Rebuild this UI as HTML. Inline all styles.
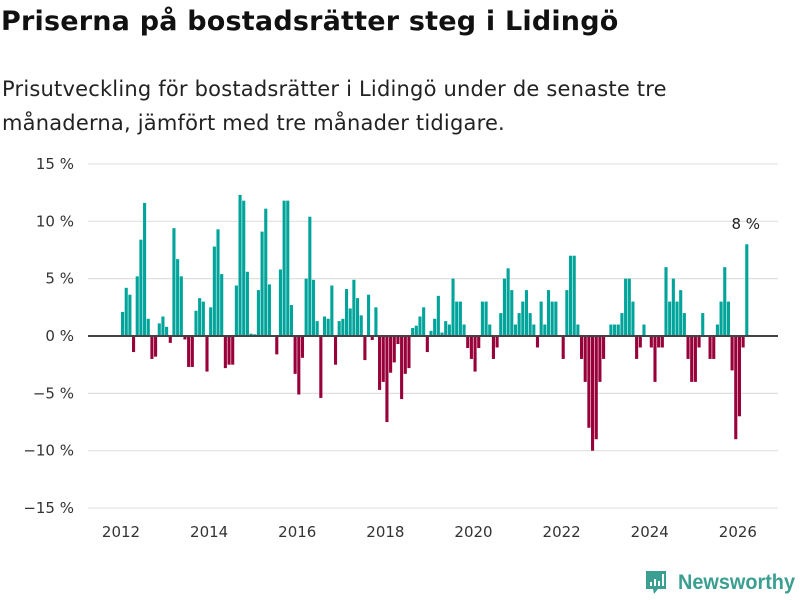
<!DOCTYPE html>
<html><head><meta charset="utf-8">
<style>
body{margin:0;background:#fff;font-family:"DejaVu Sans",sans-serif;}
#wrap{position:relative;width:800px;height:600px;overflow:hidden;}
h1{position:absolute;left:1px;top:6px;margin:0;font-family:"DejaVu Sans",sans-serif;font-size:27px;font-weight:bold;color:#111;letter-spacing:0.2px;white-space:nowrap;}
p{position:absolute;left:2px;top:72px;margin:0;font-family:"DejaVu Sans",sans-serif;font-size:21px;line-height:34px;color:#222;white-space:nowrap;letter-spacing:0.2px;}
</style></head><body>
<div id="wrap">
<h1>Priserna på bostadsrätter steg i Lidingö</h1>
<p>Prisutveckling för bostadsrätter i Lidingö under de senaste tre<br>månaderna, jämfört med tre månader tidigare.</p>
<svg id="chart" width="800" height="600" style="position:absolute;left:0;top:0"></svg>
<svg width="160" height="40" style="position:absolute;left:640px;top:560px">
<path d="M6 11 h20 v18 h-8 l-4 5 l-1 -5 h-7 z" fill="#3a9e90"/>
<rect x="10" y="22" width="2" height="4" fill="#fff"/><rect x="14" y="19" width="2" height="7" fill="#fff"/><rect x="18" y="21" width="2" height="5" fill="#fff"/><rect x="22" y="14" width="2" height="12" fill="#fff"/>
<text x="38" y="29" font-family="Liberation Sans, sans-serif" font-size="21" font-weight="bold" fill="#3a9e90" textLength="117" lengthAdjust="spacingAndGlyphs">Newsworthy</text>
</svg>
</div>
<script>
const yTicks=[15,10,5,0,-5,-10,-15];
const yTickLabels=["15 %","10 %","5 %","0 %","−5 %","−10 %","−15 %"];
const years=[2012,2014,2016,2018,2020,2022,2024,2026];
const startYear=2012;
const values=[2.1,4.2,3.6,-1.4,5.2,8.4,11.6,1.5,-2.0,-1.8,1.1,1.7,
0.8,-0.6,9.4,6.7,5.2,-0.3,-2.7,-2.7,2.2,3.3,3.0,-3.1,
2.5,7.8,9.3,5.4,-2.8,-2.5,-2.5,4.4,12.3,11.8,
5.6,0.2,0.15,4.0,9.1,11.1,4.5,0,-1.6,5.8,11.8,11.8,2.7,-3.3,-5.1,-1.9,5.0,10.4,4.9,1.3,-5.4,1.7,1.5,4.4,-2.5,1.3,1.5,4.1,2.4,4.9,3.3,1.8,-2.1,3.6,
-0.35,2.5,-4.7,-4.0,-7.5,-3.2,-2.3,-0.7,-5.5,-3.3,-2.8,0.7,0.9,1.7,2.5,-1.4,0.45,1.5,3.5,0.3,1.3,1.0,5.0,3.0,3.0,1.0,-1.05,-2.0,-3.1,-1.05,3.0,3.0,1.0,
-2.0,-1.0,2.0,5.0,5.9,4.0,1.0,2.0,3.0,4.0,2.0,1.0,-1.0,3.0,1.0,4.0,3.0,3.0,0,-2.0,4.0,7.0,7.0,1.0,-2.0,-4.0,-8.0,-10.0,-9.0,-4.0,-2.0,0,1.0,1.0,
1.0,2.0,5.0,5.0,3.0,-2.0,-1.0,1.0,0,-1.0,-4.0,-1.0,-1.0,6.0,3.0,5.0,3.0,4.0,2.0,-2.0,-4.0,-4.0,-1.0,2.0,0,-2.0,-2.0,1.0,3.0,6.0,3.0,-3.0,-9.0,-7.0,-1.0,8.0];
const lastLabel="8 %";

const NS="http://www.w3.org/2000/svg";
const svg=document.getElementById('chart');
const y=v=>336-v*11.47;
const xm=i=>121+i*3.672;
const FF='DejaVu Sans, sans-serif';
function el(t,a,p){const e=document.createElementNS(NS,t);for(const k in a)e.setAttribute(k,a[k]);(p||svg).appendChild(e);return e;}
yTicks.forEach((t,k)=>{
  if(t!==0){const g=el('line',{x1:88,x2:778,y1:y(t),y2:y(t),stroke:'#e0e0e0','stroke-width':1.2});
  
  }
  const tx=el('text',{x:74,y:y(t)+5,'text-anchor':'end','font-size':15,fill:'#333','font-family':FF});
  tx.textContent=yTickLabels[k];
  
  
});
years.forEach(yr=>{
  const xx=xm((yr-startYear)*12);
  const tx=el('text',{x:xx,y:537,'text-anchor':'middle','font-size':15,fill:'#333','font-family':FF});
  tx.textContent=yr;
  
  
});
values.forEach((v,i)=>{
  if(v===0)return;
  const r=el('rect',{x:xm(i),y:Math.min(y(v),336),width:3.1,height:Math.abs(y(v)-336),fill:v>0?'#00a49a':'#98003a'});
  
  
});
const z=el('line',{x1:88,x2:778,y1:336,y2:336,stroke:'#444','stroke-width':2});


const li=values.length-1;
const lb=el('text',{x:xm(li)+0.5,y:y(values[li])-15,'text-anchor':'middle','font-size':15,fill:'#222','font-family':FF});
lb.textContent=lastLabel;


</script>
</body></html>
